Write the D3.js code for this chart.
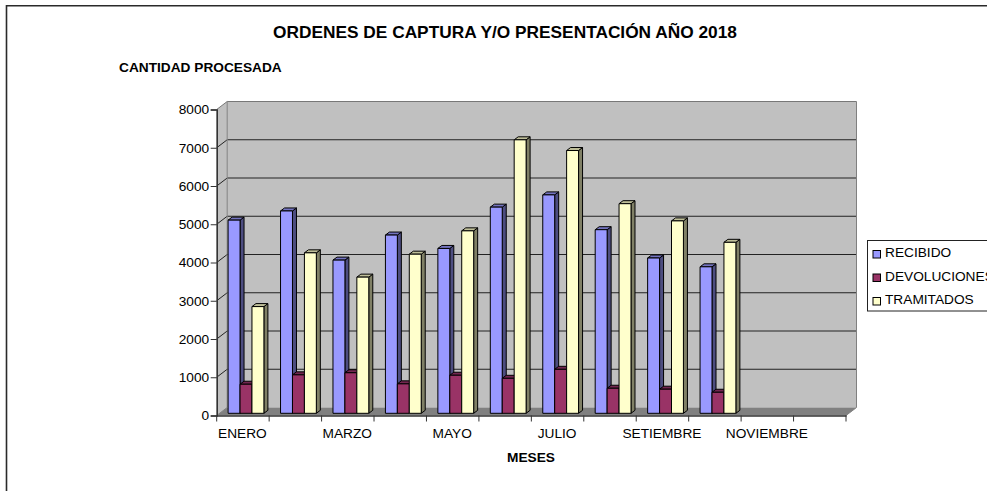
<!DOCTYPE html>
<html><head><meta charset="utf-8">
<script src="https://cdn.jsdelivr.net/npm/d3@7/dist/d3.min.js"></script>
<style>html,body{margin:0;padding:0;background:#fff;overflow:hidden}svg{display:block}text{font-family:"Liberation Sans",Arial,sans-serif;fill:#000}</style>
</head><body><div id="c"></div>
<script>
const months = ["ENERO","FEBRERO","MARZO","ABRIL","MAYO","JUNIO","JULIO","AGOSTO","SETIEMBRE","OCTUBRE","NOVIEMBRE","DICIEMBRE"];
const shownMonths = ["ENERO","MARZO","MAYO","JULIO","SETIEMBRE","NOVIEMBRE"];
const seriesNames = ["RECIBIDO","DEVOLUCIONES","TRAMITADOS"];
const recibido = [5050,5290,4005,4660,4310,5390,5710,4800,4060,3830,null,null];
const devoluciones = [760,1005,1060,770,995,915,1150,655,630,550,null,null];
const tramitados = [2790,4195,3560,4160,4770,7150,6870,5480,5030,4470,null,null];
const seriesValues = [recibido,devoluciones,tramitados];
const yTicks = [0,1000,2000,3000,4000,5000,6000,7000,8000];
const colors = {face:["#9999ff","#993366","#ffffcc"],top:["#7373bf","#732650","#bfbf99"],side:["#4d4d80","#4d1a33","#808066"]};

const W=987,H=491;
const FS=13.7;
const svg=d3.select("#c").append("svg").attr("width",W).attr("height",H);
const x0=d3.scaleBand().domain(months).range([216.7,846]);
const x1=d3.scaleBand().domain(seriesNames).range([11.4,47.2]);
const y=d3.scaleLinear().domain([0,8000]).range([415.5,109.5]);
const dX=10.5,dY=-8;              // wall depth
const bOffY=-2.2, bDx=4, bDy=-3;  // bar placement in depth

// frame (open on the right and bottom, cut by the window)
svg.append("path").attr("d",`M6.5,${H}V5.8H${W}`).attr("fill","none").attr("stroke","#2a2a2a").attr("stroke-width",1.6);

// walls
const L=x0.range()[0],R=x0.range()[1],Y0=y(0),Y8=y(8000);
svg.append("path").attr("d",`M${L},${Y0}L${L},${Y8}L${L+dX},${Y8+dY}L${L+dX},${Y0+dY}Z`).attr("fill","#c0c0c0");
svg.append("rect").attr("x",L+dX).attr("y",Y8+dY).attr("width",R-L).attr("height",Y0-Y8).attr("fill","#c0c0c0");
svg.append("path").attr("d",`M${L},${Y0}L${L+dX},${Y0+dY}L${R+dX},${Y0+dY}L${R},${Y0}Z`).attr("fill","#808080");

// gridlines
yTicks.filter(d=>d>0).forEach(d=>{
  const c=d===8000?"#777":"#222";
  svg.append("path").attr("fill","none").attr("stroke",c).attr("stroke-width",1)
    .attr("d",`M${L},${y(d)}L${L+dX},${y(d)+dY}H${R+dX}`);
});
svg.append("path").attr("fill","none").attr("stroke","#808080").attr("stroke-width",1)
  .attr("d",`M${L+dX},${Y0+dY}V${Y8+dY}M${R+dX},${Y8+dY}V${Y0+dY}L${R},${Y0}M${L},${Y0}L${L+dX},${Y0+dY}`);

// bars
months.forEach((m,i)=>{
  seriesNames.forEach((s,j)=>{
    const v=seriesValues[j][i];
    if(v==null)return;
    const xa=x0(m)+x1(s),w=x1.bandwidth(),yt=y(v)+bOffY,yb=y(0)+bOffY;
    const g=svg.append("g").attr("stroke","#000").attr("stroke-width",1).attr("stroke-linejoin","round");
    g.append("path").attr("fill",colors.side[j]).attr("d",`M${xa+w},${yt}l${bDx},${bDy}V${yb+bDy}l${-bDx},${-bDy}Z`);
    g.append("path").attr("fill",colors.top[j]).attr("d",`M${xa},${yt}l${bDx},${bDy}h${w}l${-bDx},${-bDy}Z`);
    g.append("rect").attr("fill",colors.face[j]).attr("x",xa).attr("y",yt).attr("width",w).attr("height",yb-yt);
  });
});

// axes
const yAxis=d3.axisLeft(y).tickValues(yTicks).tickSize(6).tickPadding(1.5).tickFormat(d3.format("d"));
const ya=svg.append("g").attr("transform",`translate(${L},0)`).call(yAxis);
ya.selectAll("text").attr("font-size",FS).style("font-family",'"Liberation Sans",Arial,sans-serif');
ya.selectAll("line,path").attr("stroke","#333");
ya.select(".domain").attr("stroke-width",1.6);

const xa=d3.axisBottom(x0).tickValues([]).tickSize(0);
const xg=svg.append("g").attr("transform",`translate(0,${Y0})`).call(xa);
xg.select(".domain").attr("stroke","#333").attr("stroke-width",1.6);
const tickPos=months.map(m=>x0(m)).concat([R]);
xg.selectAll("line.t").data(tickPos).join("line").attr("class","t")
  .attr("x1",d=>d).attr("x2",d=>d).attr("y1",0).attr("y2",6).attr("stroke","#333");
svg.selectAll("text.m").data(shownMonths).join("text").attr("class","m")
  .attr("x",d=>x0(d)+x0.bandwidth()/2-0.5).attr("y",438).attr("text-anchor","middle").attr("font-size",FS).text(d=>d);

// titles
svg.append("text").attr("x",505).attr("y",38).attr("text-anchor","middle").attr("font-size",17.3).attr("font-weight","bold").text("ORDENES DE CAPTURA Y/O PRESENTACIÓN AÑO 2018");
svg.append("text").attr("x",119).attr("y",71.5).attr("font-size",FS).attr("font-weight","bold").text("CANTIDAD PROCESADA");
svg.append("text").attr("x",531).attr("y",461.5).attr("text-anchor","middle").attr("font-size",FS).attr("font-weight","bold").text("MESES");

// legend
const leg=svg.append("g");
leg.append("rect").attr("x",867.5).attr("y",240.5).attr("width",140).attr("height",70.5).attr("fill","#fff").attr("stroke","#222");
const ly=d3.scalePoint().domain(seriesNames).range([254,301]);
seriesNames.forEach((s,j)=>{
  leg.append("rect").attr("x",873).attr("y",ly(s)-3.5).attr("width",7.5).attr("height",7.5).attr("fill",colors.face[j]).attr("stroke","#000");
  leg.append("text").attr("x",885).attr("y",ly(s)+3.4).attr("font-size",FS).text(s);
});
</script></body></html>
